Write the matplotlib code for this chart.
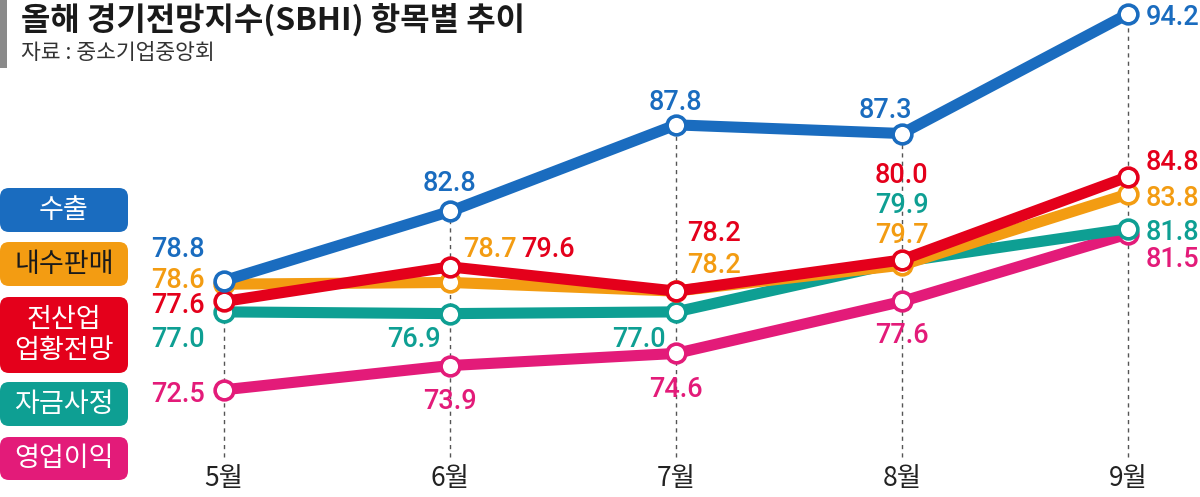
import matplotlib
matplotlib.use('Agg')
import matplotlib.pyplot as plt
from matplotlib.patches import FancyBboxPatch, Rectangle

plt.rcParams['font.family'] = ['Noto Sans CJK KR', 'DejaVu Sans']

# --- Data ---
months = ['5월', '6월', '7월', '8월', '9월']
export = [78.8, 82.8, 87.8, 87.3, 94.2]
domestic = [78.6, 78.7, 78.2, 79.7, 83.8]
all_industry = [77.6, 79.6, 78.2, 80.0, 84.8]
funding = [77.0, 76.9, 77.0, 79.9, 81.8]
profit = [72.5, 73.9, 74.6, 77.6, 81.5]

series_names = ['수출', '내수판매', '전산업\n업황전망', '자금사정', '영업이익']
series_values = [export, domestic, all_industry, funding, profit]
colors = ['#1a6cbf', '#f39c12', '#e4001b', '#0e9f93', '#e31b79']

# label offsets in pixels (dx, dy, ha) per point
label_pos = [
    [(-19, 34, 'right'), (0, 31, 'center'), (0, 25, 'center'), (-16, 26, 'center'), (18, 0, 'left')],
    [(-19, 7, 'right'), (13, 36, 'left'), (11, 29, 'left'), (0, 33, 'center'), (18, -1, 'left')],
    [(-19, -1, 'right'), (71, 20, 'left'), (11, 61, 'left'), (0, 87, 'center'), (18, 17, 'left')],
    [(-19, -25, 'right'), (-9, -23, 'right'), (-10, -25, 'right'), (0, 59, 'center'), (18, -1, 'left')],
    [(-19, -2, 'right'), (0, -33, 'center'), (0, -33, 'center'), (0, -31, 'center'), (18, -23, 'left')],
]

fig = plt.figure(figsize=(12, 4.97), dpi=100)
fig.patch.set_facecolor('white')

ax = fig.add_axes([0, 0, 1, 1])
ax.set_xlim(-0.991, 4.319)
ax.set_ylim(66.31, 95.01)
ax.axis('off')

x = list(range(len(months)))

# dashed guides
for i in x:
    ax.vlines(i, 68.6, export[i], colors='#555555', linestyles=(0, (3, 3)),
              linewidth=1.0, zorder=1)

zorders = [10, 7, 8, 6, 5]
for vals, col, z in zip(series_values, colors, zorders):
    ax.plot(x, vals, color=col, linewidth=8, solid_capstyle='round',
            marker='o', markersize=13.5, markerfacecolor='white',
            markeredgecolor=col, markeredgewidth=2.6, zorder=z)

for vals, col, pos in zip(series_values, colors, label_pos):
    for i, v in enumerate(vals):
        dx, dy, ha = pos[i]
        ax.annotate(f'{v:.1f}', (i, v), xytext=(dx, dy), textcoords='offset pixels',
                    ha=ha, va='center_baseline', fontsize=19.5, color=col,
                    family=['Roboto', 'DejaVu Sans'], fontweight='medium', zorder=20)

for i, m in enumerate(months):
    ax.text(i, 67.35, m, ha='center', va='center', fontsize=19, color='#222222')

# --- layout overlay ---
ov = fig.add_axes([0, 0, 1, 1], facecolor='none')
ov.set_xlim(0, 1200)
ov.set_ylim(497, 0)
ov.axis('off')

ov.add_patch(Rectangle((0, 0), 7, 68, color='#8a8a8a', lw=0))
ov.text(21, 20, '올해 경기전망지수(SBHI) 항목별 추이', fontsize=23, fontweight='heavy',
        color='#1a1a1a', ha='left', va='center')
ov.text(21, 53, '자료 : 중소기업중앙회', fontsize=15.5, color='#333333',
        ha='left', va='center')

boxes = [(188, 232), (242, 286), (297, 373), (382, 426), (437, 480)]
text_colors = ['white', '#1a1a1a', 'white', 'white', 'white']
for (y0, y1), name, col, tc in zip(boxes, series_names, colors, text_colors):
    ov.add_patch(FancyBboxPatch((0, y0), 128, y1 - y0,
                                boxstyle='round,pad=0,rounding_size=9',
                                facecolor=col, edgecolor='none'))
    ov.text(64, (y0 + y1) / 2, name, ha='center', va='center', fontsize=19.5,
            color=tc, fontweight='medium', linespacing=1.2)

fig.savefig('out.png', dpi=100, facecolor='white')
